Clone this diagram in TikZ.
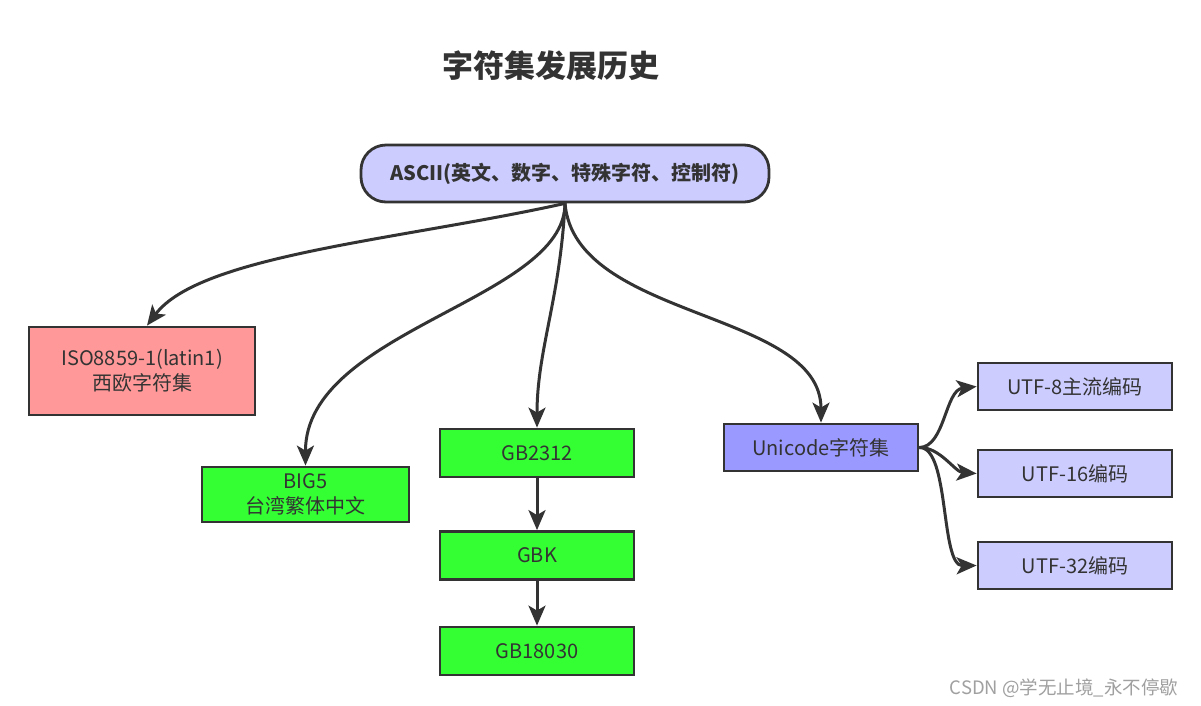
\documentclass[tikz,border=0pt]{standalone}
\usepackage{fontspec}
\setmainfont{Noto Sans CJK SC}
\usetikzlibrary{arrows.meta}
\definecolor{ink}{HTML}{333333}
\definecolor{lav}{HTML}{CCCCFF}
\definecolor{rose}{HTML}{FF9999}
\definecolor{grn}{HTML}{33FF33}
\definecolor{violet}{HTML}{9999FF}
\definecolor{wm}{HTML}{A0A0A0}
\begin{document}
\begin{tikzpicture}[x=1pt,y=-1pt,
  box/.style={draw=ink, line width=2.8pt, text=ink, inner sep=0pt, align=center,
    font=\fontsize{20}{25}\selectfont},
  conn/.style={draw=ink, line width=3pt,
    -{Stealth[length=20pt,width=17pt,inset=5pt]}},
  titlestyle/.style={text=ink, font=\fontsize{31}{36}\selectfont\bfseries},
  wmstyle/.style={text=wm, font=\fontsize{18.5}{22}\selectfont}]
\fill[white] (0,0) rectangle (1201,705);
\useasboundingbox (0,0) rectangle (1201,705);

\node[titlestyle] (title) at (551,66) {字符集发展历史};

\node[box, fill=lav, rounded corners=25pt, minimum width=408pt, minimum height=57pt,
  font=\fontsize{20}{24}\selectfont\bfseries] (ascii) at (565,173.5)
  {ASCII(英文、数字、特殊字符、控制符)};

\node[box, fill=rose, minimum width=226pt, minimum height=88pt] (iso) at (142,371)
  {ISO8859-1(latin1)\\西欧字符集};
\node[box, fill=grn, minimum width=207pt, minimum height=55pt] (big5) at (305.5,494.5)
  {BIG5\\台湾繁体中文};
\node[box, fill=grn, minimum width=194pt, minimum height=48pt] (gb2312) at (537,453) {GB2312};
\node[box, fill=grn, minimum width=194pt, minimum height=48pt] (gbk) at (537,555.5) {GBK};
\node[box, fill=grn, minimum width=194pt, minimum height=48pt] (gb18030) at (537,651) {GB18030};
\node[box, fill=violet, minimum width=194pt, minimum height=47pt] (unicode) at (821,447.5) {Unicode字符集};
\node[box, fill=lav, minimum width=194pt, minimum height=47pt] (utf8) at (1075,386.5) {UTF-8主流编码};
\node[box, fill=lav, minimum width=194pt, minimum height=47pt] (utf16) at (1075,473.5) {UTF-16编码};
\node[box, fill=lav, minimum width=194pt, minimum height=47pt] (utf32) at (1075,565.5) {UTF-32编码};

\node[wmstyle] (wmark) at (1064,688) {CSDN @学无止境\_永不停歇};

\draw[conn] (ascii.south) .. controls (400,240) and (200,255) .. ([xshift=5pt]iso.north);
\draw[conn] (ascii.south) .. controls (565,300) and (305,330) .. (big5.north);
\draw[conn] (ascii.south) .. controls (560,300) and (537,350) .. (gb2312.north);
\draw[conn] (ascii.south) .. controls (575,320) and (821,310) .. (unicode.north);

\draw[conn] (gb2312) -- (gbk);
\draw[conn] (gbk) -- (gb18030);

\draw[conn] (unicode.east) .. controls (945,447) and (945,390) .. (utf8.west);
\draw[conn] (unicode.east) .. controls (940,447) and (955,472) .. (utf16.west);
\draw[conn] (unicode.east) .. controls (950,447) and (940,566) .. (utf32.west);
\end{tikzpicture}
\end{document}
